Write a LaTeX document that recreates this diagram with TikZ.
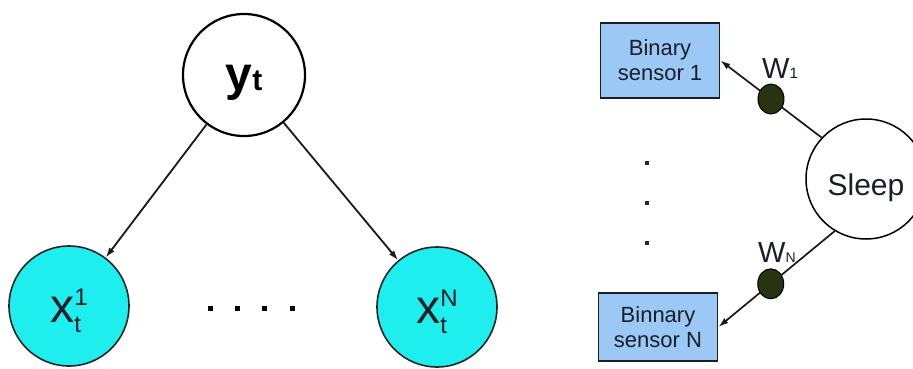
\documentclass[tikz,border=0pt]{standalone}
\usepackage{fontspec}
\setmainfont{Liberation Sans}
\usetikzlibrary{arrows.meta,shapes.geometric}

\definecolor{nodecyan}{RGB}{30,238,238}
\definecolor{sensorblue}{RGB}{155,200,245}
\definecolor{weightgreen}{RGB}{40,52,15}
\definecolor{inkdark}{RGB}{25,30,40}

% font size helper and stacked super/subscript for x_t^i
\newcommand{\fsz}[1]{\fontsize{#1}{#1}\selectfont}
\newcommand{\varsupsub}[2]{\rlap{\raisebox{-10pt}{\fsz{24}#2}}\raisebox{17pt}{\fsz{24}#1}}

\begin{document}
\begin{tikzpicture}[x=1pt,y=-1pt,
  hidden/.style={circle,draw=black,line width=2.2pt,fill=white,inner sep=0pt,
    minimum size=122pt,text height=30pt,text depth=0pt},
  observed/.style={circle,draw=black!85,line width=1.6pt,fill=nodecyan,inner sep=0pt,
    minimum size=120pt,text height=32pt,text depth=0pt,text=inkdark},
  sleepnode/.style={circle,draw=black,line width=1.5pt,fill=white,inner sep=0pt,
    minimum size=120pt,text height=32pt,text depth=0pt,text=inkdark},
  sensor/.style={rectangle,draw=inkdark,line width=1.8pt,fill=sensorblue,inner sep=0pt,
    minimum width=119pt,align=center,text=inkdark,font=\fsz{22}\linespread{1}},
  weight/.style={ellipse,draw=black,line width=1pt,fill=weightgreen,inner sep=0pt,
    minimum width=26pt,minimum height=30pt},
  edge/.style={draw=black!90,line width=1.8pt,-{Latex[length=10pt,width=6.5pt]}},
  dotsq/.style={rectangle,fill=black,inner sep=0pt,minimum size=5pt},
  dotsm/.style={rectangle,fill=black!85,inner sep=0pt,minimum size=4pt},
  wlabel/.style={anchor=base west,inner sep=0pt,text=inkdark,font=\fsz{29}}]

\useasboundingbox (0,0) rectangle (913,369);

% ---- left: naive Bayes model ----
\node[hidden] (yt) at (244,75) {\bfseries\fsz{48}y\fsz{30}t};
\node[observed] (x1) at (69,306) {\fsz{48}x\varsupsub{1}{t}};
\node[observed] (xN) at (437,307) {\fsz{48}x\varsupsub{N}{t}};

\draw[edge] (yt) -- (x1);
\draw[edge] (yt) -- (xN);

\node[dotsq] (h1) at (210,308) {};
\node[dotsq] (h2) at (237,308) {};
\node[dotsq] (h3) at (264,308) {};
\node[dotsq] (h4) at (292,308) {};

% ---- right: sleep state and weighted binary sensors ----
\node[sleepnode] (sleep) at (866,179) {\fsz{30}Sleep};
\node[sensor,minimum height=75pt] (s1) at (660,60.5) {Binary\\[3pt]sensor 1};
\node[sensor,minimum height=68pt] (sN) at (658,327) {Binnary\\[3pt]sensor N};

\draw[edge,line width=1.7pt] (sleep.137) -- (s1.east) node[weight,pos=0.5] (w1) {};
\draw[edge,line width=1.7pt] (sleep.239) -- (sN.east) node[weight,pos=0.55] (wN) {};

\node[wlabel] (lw1) at (762,78) {W\fsz{15}1};
\node[wlabel] (lwN) at (758,262) {W\fsz{14}N};

\node[dotsm] (v1) at (647,163) {};
\node[dotsm] (v2) at (647,203) {};
\node[dotsm] (v3) at (647,243) {};
\end{tikzpicture}
\end{document}
